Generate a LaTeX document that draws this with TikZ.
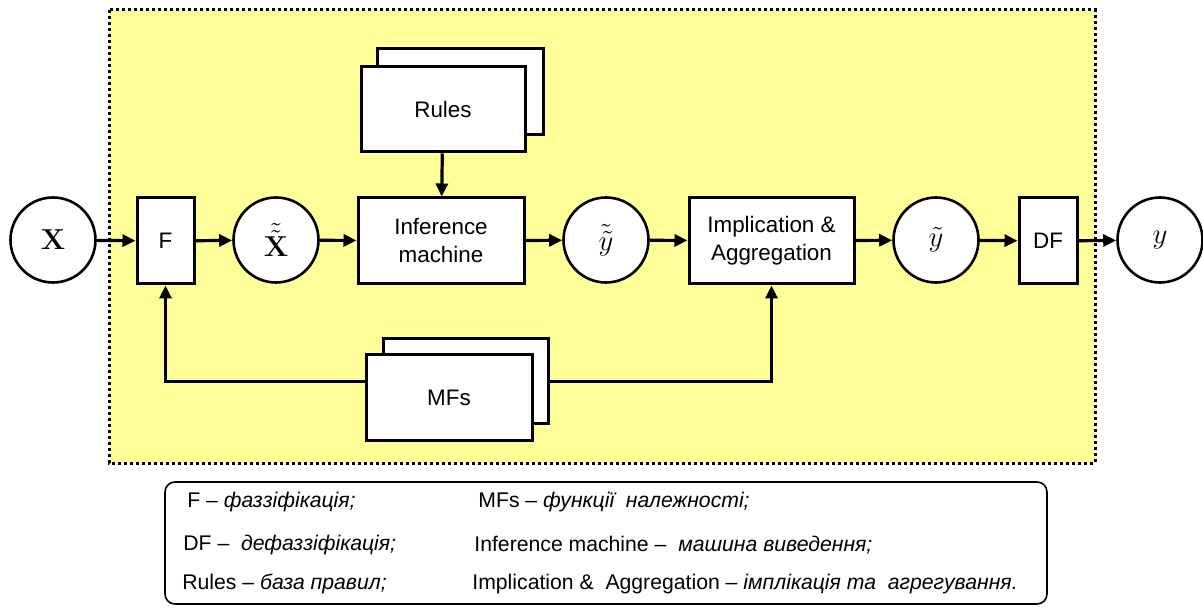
\documentclass[tikz,border=0pt]{standalone}
\usepackage[no-math]{fontspec}
\setmainfont{Liberation Sans}
\usetikzlibrary{arrows.meta}
\definecolor{fzyellow}{RGB}{255,255,153}

\begin{document}
\begin{tikzpicture}[x=0.5pt,y=-0.5pt,
  blk/.style={draw, line width=1.5pt, fill=white, inner sep=0pt, align=center, font=\fontsize{11.2}{14}\selectfont},
  circ/.style={draw, circle, line width=1.3pt, fill=white, minimum size=42.5pt, inner sep=0pt, font=\fontsize{15.5}{18}\selectfont},
  arr/.style={line width=1.6pt, -{Triangle[length=6.5pt,width=6pt]}},
  lgd/.style={anchor=west, inner sep=0pt, font=\fontsize{10.6}{12}\selectfont}]
\useasboundingbox (0,0) rectangle (1203,608);

% fuzzy system area
\fill[fzyellow] (109,10) rectangle (1095,463);
\draw[line width=1.5pt, dash pattern=on 1.5pt off 1.5pt] (109,10) rectangle (1095,463);

% main chain
\node[circ] (xin) at (53,240) {$\mathbf{X}$};
\node[blk, minimum width=28.5pt, minimum height=43pt] (f) at (165.5,241) {F};
\node[circ] (xf) at (276,240) {$\tilde{\tilde{\mathbf{X}}}$};
\node[blk, minimum width=83pt, minimum height=43pt] (inf) at (441,241) {Inference\\machine};
\node[circ] (yff) at (606,240) {$\tilde{\tilde{y}}$};
\node[blk, minimum width=82.5pt, minimum height=43pt] (impl) at (771.5,241) {Implication \&\\Aggregation};
\node[circ] (yf) at (936,240) {$\tilde{y}$};
\node[blk, minimum width=29pt, minimum height=43pt] (df) at (1048,241) {DF};
\node[circ] (yout) at (1160,240) {$y$};

% stacked boxes
\node[blk, minimum width=83pt, minimum height=43pt] (rulesb) at (460,92) {};
\node[blk, minimum width=82pt, minimum height=42.5pt] (rules) at (443,109.5) {Rules};
\node[blk, minimum width=82.5pt, minimum height=42.5pt] (mfsb) at (465.5,381.5) {};
\node[blk, minimum width=83pt, minimum height=43pt] (mfs) at (449,398) {MFs};

\draw[arr] (xin) -- (f);
\draw[arr] (f) -- (xf);
\draw[arr] (xf) -- (inf);
\draw[arr] (inf) -- (yff);
\draw[arr] (yff) -- (impl);
\draw[arr] (impl) -- (yf);
\draw[arr] (yf) -- (df);
\draw[arr] (df) -- (yout);
\draw[arr] (rules) -- (inf);
\draw[arr] (mfs.west |- mfsb.east) -| (f.south);
\draw[arr] (mfsb.east) -| (impl.south);

% legend
\draw[line width=0.8pt, rounded corners=5pt] (165,482) rectangle (1047,604);
\node[lgd] (l1) at (187,502) {F -- \textit{фаззіфікація;}};
\node[lgd] (l2) at (183,545) {DF --\ \ \textit{дефаззіфікація;}};
\node[lgd] (l3) at (182,584) {Rules -- \textit{база правил;}};
\node[lgd] (r1) at (478,502) {MFs -- \textit{функції\ \ належності;}};
\node[lgd] (r2) at (474,545) {Inference machine --\ \ \textit{машина виведення;}};
\node[lgd] (r3) at (472,584) {Implication \&\ \ Aggregation -- \textit{імплікація та\ \ агрегування.}};
\end{tikzpicture}
\end{document}
